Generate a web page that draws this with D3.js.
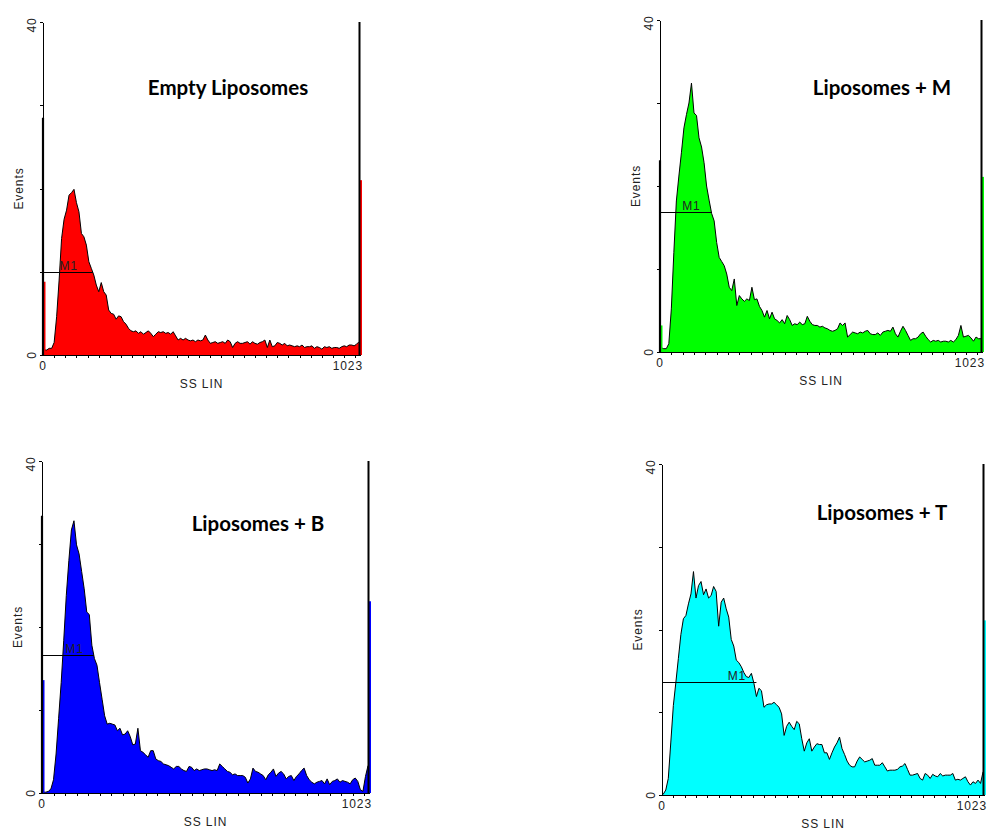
<!DOCTYPE html>
<html>
<head>
<meta charset="utf-8">
<script src="https://cdn.jsdelivr.net/npm/d3@7"></script>
<style>
  body { margin: 0; background: #fff; }
  svg { display: block; }
  .axis path, .axis line { stroke: #000; shape-rendering: crispEdges; }
  .lbl { font-family: "Liberation Sans", Arial, sans-serif; font-size: 12px; letter-spacing: 0.9px; fill: #222; }
  .title { font-family: Lato, "Open Sans", sans-serif; font-weight: bold; font-size: 20.5px; fill: #000; }
</style>
</head>
<body>
<div id="chart"></div>
<script>
(function() {
  var titles = ['Empty Liposomes', 'Liposomes + M', 'Liposomes + B', 'Liposomes + T']
  var colors = ['#ff0000', '#00ff00', '#0000ff', '#00ffff']

  // counts per 8-channel bin (128 bins over 0..1023)
  var emptyCounts = [
    0.6, 0.6, 0.8, 0.8, 1.5, 4.6, 9, 14, 16.3, 17.4, 19.2, 19.5, 19.9, 18.3, 17.2, 14.6,
    14.2, 13.2, 11.2, 10.4, 9.6, 8.4, 7.6, 8.7, 7.6, 7.2, 5.4, 5, 4.9, 4.3, 4.7, 4.6,
    4.0, 3.7, 3.2, 2.9, 2.8, 2.9, 2.6, 2.8, 2.5, 2.7, 2.9, 2.6, 2.2, 2.5, 2.8, 2.7,
    2.8, 2.6, 2.7, 2.5, 2.8, 2.3, 1.8, 2.0, 1.8, 2.0, 1.8, 1.7, 1.8, 1.6, 1.8, 1.7,
    1.8, 2.4, 1.8, 1.4, 1.5, 1.6, 1.4, 1.5, 1.6, 1.4, 1.8, 1.6, 0.9, 1.4, 1.6, 1.4,
    1.4, 1.5, 1.6, 1.3, 1.6, 1.4, 1.3, 1.5, 1.6, 1.8, 0.9, 1.8, 1.0, 1.1, 1.5, 1.4,
    1.2, 1.4, 1.1, 1.2, 1.1, 1.0, 1.1, 1.0, 1.2, 0.9, 1.0, 1.0, 1.1, 0.8, 1.0, 0.9,
    0.7, 1.0, 0.9, 1.0, 0.8, 0.9, 0.9, 0.8, 1.0, 1.1, 1.0, 1.2, 1.2, 1.1, 1.3, 1.6
  ]
  var mCounts = [
    0.5, 0.4, 0.4, 1.0, 5.2, 12, 18.2, 21.2, 24, 27, 28.6, 30, 32.4, 28.8, 28.5, 25.8,
    24.7, 22.8, 20, 18.3, 16.7, 15.8, 13.2, 11.4, 10.9, 10.4, 9.4, 7.8, 7.4, 8.8, 5.6, 6.8,
    6.4, 6.1, 6.4, 6.2, 7.8, 6.3, 6.4, 5.5, 5, 4.2, 5, 4, 4.8, 4, 3.8, 3.5,
    3.9, 3.4, 4.4, 3.9, 3.2, 3.4, 3.3, 3.6, 3.3, 3.4, 4.3, 3.7, 3.3, 3.2, 3.2, 3.0,
    3.1, 2.9, 2.8, 2.6, 2.5, 2.6, 2.8, 3.5, 3.2, 3.5, 1.8, 2.1, 2.4, 2.3, 2.2, 2.4,
    2.3, 2.5, 2.6, 2.2, 2.1, 2.1, 2.3, 2.0, 2.4, 2.5, 2.6, 2.5, 3.0, 2.2, 1.8, 2.5,
    3.1, 2.6, 2.0, 1.4, 1.6, 1.6, 1.8, 2.2, 2.4, 1.9, 1.5, 1.2, 1.4, 1.3, 1.4, 1.2,
    1.3, 1.3, 1.2, 1.4, 1.2, 1.5, 2.0, 3.2, 1.8, 1.9, 2.0, 1.7, 1.3, 1.8, 1.6, 1.6
  ]
  var bCounts = [
    0.1, 0.1, 0.2, 0.5, 1.6, 4.7, 9.0, 13.3, 18.4, 23.8, 28, 31.7, 32.8, 29.9, 28.8, 26.7,
    24.6, 21.8, 21.5, 17.8, 16.2, 15.4, 13.3, 11.3, 9.3, 8.3, 8.4, 8.3, 8.2, 7.5, 7.8, 7.0,
    7.1, 7.5, 6.8, 5.8, 5.9, 7.8, 5.1, 4.9, 4.6, 4.3, 5.1, 5.1, 4.1, 3.9, 3.8, 3.5,
    3.4, 3.3, 3.1, 2.9, 3.2, 3.2, 2.9, 2.7, 2.6, 3.2, 3.1, 2.7, 2.9, 2.7, 2.8, 2.9,
    2.9, 2.8, 2.7, 2.8, 2.7, 3.5, 3.2, 2.9, 2.6, 2.5, 2.2, 2.3, 2.1, 2.1, 2.1, 1.9,
    1.2, 1.7, 3.0, 2.6, 2.5, 2.3, 2.1, 1.6, 2.2, 2.5, 2.9, 2.0, 2.4, 2.6, 2.3, 1.7,
    2.0, 2.1, 1.5, 2.0, 2.3, 2.7, 3.0, 2.1, 1.6, 1.3, 1.1, 1.3, 1.4, 1.5, 1.1, 1.7,
    1.0, 1.4, 1.5, 1.7, 1.3, 1.5, 1.4, 1.3, 1.1, 1.6, 1.8, 1.4, 0.4, 0.2, 2.0, 3.3
  ]
  var tCounts = [
    0.1, 0.6, 2.0, 6.4, 10.8, 13.6, 16.5, 19.4, 21.3, 21.7, 23.1, 24.3, 27, 23.8, 25.3, 25.8,
    24.2, 24.9, 23.8, 24.1, 25.2, 24.6, 20.4, 23.3, 23.8, 22.5, 21.5, 18.8, 18, 16.3, 16.0, 15.5,
    14.8, 14.3, 14.2, 14.7, 13.5, 11.9, 12.9, 12.6, 10.6, 10.9, 11.0, 11.0, 11.2, 10.9, 10.6, 9.8,
    7.2, 8.3, 8.8, 8.3, 7.9, 8.9, 8.6, 6.8, 5.3, 6.3, 6.8, 5.3, 5.8, 6.2, 6.1, 6.1,
    5.1, 5.1, 4.3, 5.1, 5.8, 6.3, 7.0, 5.6, 4.9, 4.1, 3.6, 3.4, 3.4, 4.1, 4.6, 4.3,
    4.0, 4.1, 4.2, 4.4, 3.6, 3.6, 3.6, 3.9, 3.4, 2.9, 3.0, 3.0, 3.0, 3.1, 3.4, 3.5,
    3.8, 3.1, 2.4, 2.4, 2.5, 2.6, 2.0, 1.8, 2.6, 2.4, 2.0, 2.5, 2.3, 2.2, 2.6, 2.3,
    2.4, 2.4, 2.4, 2.6, 1.8, 1.9, 1.8, 2.0, 2.2, 1.6, 1.2, 1.6, 1.4, 1.8, 1.4, 2.8
  ]
  var allCounts = [emptyCounts, mCounts, bCounts, tCounts]

  // channel 0 pile-up: [outline height, fill height]; channel 1023 is off scale
  var lowEdge = [[28.5, 8.8], [23.1, 3.2], [33.4, 13.6], [0, 0]]
  var highEdge = [[60, 21], [60, 21.1], [60, 23.1], [60, 21.1]]

  // M1 marker: level, end channel, label channel
  var markerLevel = [10, 16.9, 16.6, 13.6]
  var markerEnd = [161, 164, 162, 300]
  var markerLabelAt = [83, 100, 102, 238]

  var yTicks = [0, 10, 20, 30, 40]
  var yTickLabels = [0, 40]
  var xTickLabels = [0, 1023]
  var binWidth = 8

  // plot boxes for the four panels
  var panels = [
    {left: 43, top: 22, right: 360, bottom: 355, titleX: 228, titleY: 95},
    {left: 660, top: 20, right: 982, bottom: 352, titleX: 882, titleY: 95},
    {left: 42, top: 461, right: 369, bottom: 793, titleX: 258, titleY: 531},
    {left: 662, top: 464, right: 984, bottom: 795, titleX: 882, titleY: 520}
  ]

  var svg = d3.select('#chart')
    .append('svg')
    .attr('width', 987)
    .attr('height', 832)

  panels.forEach(function(p, k) {
    var counts = allCounts[k]
    var xPositionScale = d3.scaleLinear().domain([0, 1023]).range([p.left, p.right])
    var yPositionScale = d3.scaleLinear().domain([0, 40]).range([p.bottom, p.top]).clamp(true)

    var points = counts.map(function(v, i) { return {ch: i * binWidth + binWidth / 2, v: v} })
    points.unshift({ch: 1, v: counts[0]})
    points.push({ch: 1022, v: counts[counts.length - 1]})

    var g = svg.append('g').attr('class', 'panel')

    var area = d3.area()
      .x(d => xPositionScale(d.ch))
      .y0(p.bottom)
      .y1(d => yPositionScale(d.v))

    var line = d3.line()
      .x(d => xPositionScale(d.ch))
      .y(d => yPositionScale(d.v))

    g.append('path')
      .datum(points)
      .attr('d', area)
      .attr('fill', colors[k])

    g.append('path')
      .datum(points)
      .attr('d', line)
      .attr('fill', 'none')
      .attr('stroke', '#000')
      .attr('stroke-width', 1)
      .attr('stroke-linejoin', 'miter')

    // channel 0 pile-up
    g.append('rect')
      .attr('x', xPositionScale(0) + 0.5)
      .attr('y', yPositionScale(lowEdge[k][1]))
      .attr('width', 2)
      .attr('height', p.bottom - yPositionScale(lowEdge[k][1]))
      .attr('fill', colors[k])
    g.append('line')
      .attr('x1', xPositionScale(0)).attr('x2', xPositionScale(0))
      .attr('y1', p.bottom).attr('y2', yPositionScale(lowEdge[k][0]))
      .attr('stroke', '#000')
      .attr('stroke-width', 2.2)

    // channel 1023 pile-up (off scale)
    g.append('rect')
      .attr('x', xPositionScale(1023))
      .attr('y', yPositionScale(highEdge[k][1]))
      .attr('width', 2)
      .attr('height', p.bottom - yPositionScale(highEdge[k][1]))
      .attr('fill', colors[k])
    g.append('line')
      .attr('x1', xPositionScale(1023) - 0.5).attr('x2', xPositionScale(1023) - 0.5)
      .attr('y1', p.bottom).attr('y2', yPositionScale(highEdge[k][0]))
      .attr('stroke', '#000')
      .attr('stroke-width', 2)

    // axes
    var yAxis = d3.axisLeft(yPositionScale)
      .tickValues(yTicks)
      .tickSize(3)
      .tickSizeOuter(0)
      .tickFormat('')
    g.append('g')
      .attr('class', 'axis axis-y')
      .attr('transform', 'translate(' + p.left + ',0)')
      .call(yAxis)

    var xAxis = d3.axisBottom(xPositionScale)
      .tickValues(d3.range(36, 1023, 36))
      .tickSize(3)
      .tickSizeOuter(0)
      .tickFormat('')
    g.append('g')
      .attr('class', 'axis axis-x')
      .attr('transform', 'translate(0,' + p.bottom + ')')
      .call(xAxis)

    // M1 marker
    g.append('line')
      .attr('x1', xPositionScale(0)).attr('x2', xPositionScale(markerEnd[k]))
      .attr('y1', Math.round(yPositionScale(markerLevel[k])) + 0.5)
      .attr('y2', Math.round(yPositionScale(markerLevel[k])) + 0.5)
      .attr('stroke', '#000')
      .attr('stroke-width', 1)
    g.append('text')
      .attr('class', 'lbl')
      .attr('x', xPositionScale(markerLabelAt[k]))
      .attr('y', yPositionScale(markerLevel[k]) - 2)
      .attr('text-anchor', 'middle')
      .text('M1')

    // tick labels
    yTickLabels.forEach(function(t) {
      var ty = yPositionScale(t) + (t === 40 ? 3 : 0)
      g.append('text')
        .attr('class', 'lbl')
        .attr('transform', 'translate(' + (p.left - 7) + ',' + ty + ') rotate(-90)')
        .attr('text-anchor', 'middle')
        .text(t)
    })
    xTickLabels.forEach(function(t, i) {
      g.append('text')
        .attr('class', 'lbl')
        .attr('x', i === 0 ? xPositionScale(t) : p.right + 3)
        .attr('y', p.bottom + 15)
        .attr('text-anchor', i === 0 ? 'middle' : 'end')
        .text(t)
    })

    g.append('text')
      .attr('class', 'lbl')
      .attr('x', (p.left + p.right) / 2)
      .attr('y', p.bottom + 33)
      .attr('text-anchor', 'middle')
      .text('SS LIN')

    g.append('text')
      .attr('class', 'lbl')
      .attr('transform', 'translate(' + (p.left - 20) + ',' + (p.top + p.bottom) / 2 + ') rotate(-90)')
      .attr('text-anchor', 'middle')
      .text('Events')

    g.append('text')
      .attr('class', 'title')
      .attr('x', p.titleX)
      .attr('y', p.titleY)
      .attr('text-anchor', 'middle')
      .text(titles[k])
  })
})()
</script>
</body>
</html>
